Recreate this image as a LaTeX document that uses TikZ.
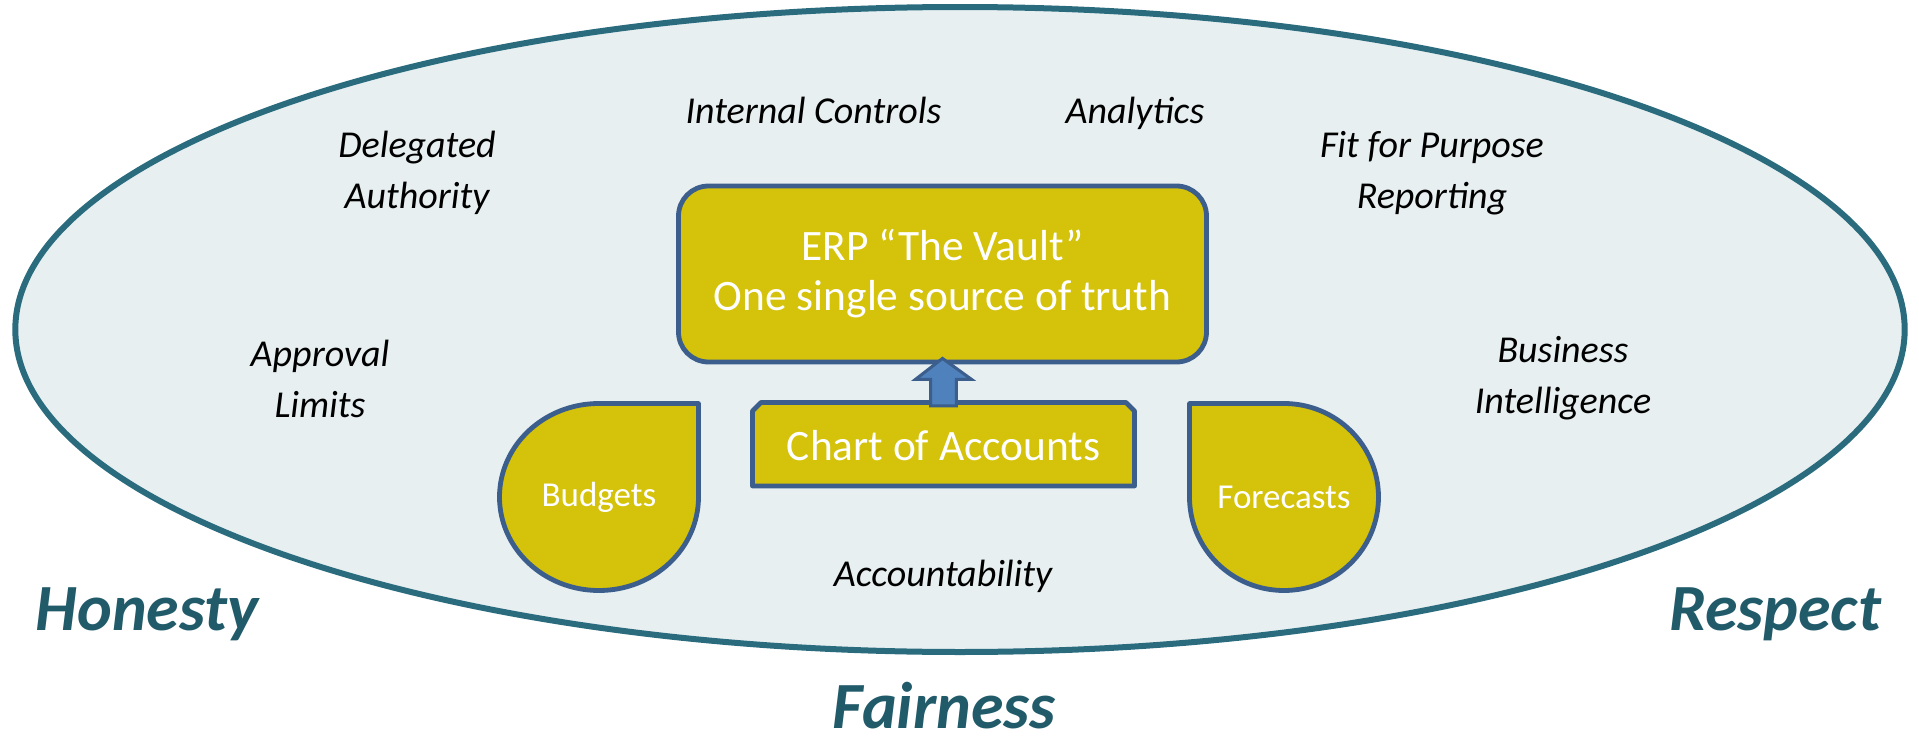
\documentclass[tikz,border=0pt]{standalone}
\usepackage{fontspec}
\setmainfont{Carlito}
\usepackage{xcolor}
\usepackage{tikz}
\usetikzlibrary{positioning}
\usetikzlibrary{calc}

\definecolor{rimteal}{HTML}{2A6C7D}
\definecolor{palefill}{HTML}{E7EFF1}
\definecolor{goldfill}{HTML}{D4C20B}
\definecolor{slateline}{HTML}{3B5E8C}
\definecolor{arrowfill}{HTML}{4F81BD}
\definecolor{virtueteal}{HTML}{215B6A}

\begin{document}
\begin{tikzpicture}[x=0.5pt,y=-0.5pt,
    rim/.style={draw=rimteal,fill=palefill,line width=3pt},
    shapeline/.style={draw=slateline,fill=goldfill,line width=2.4pt,line join=round},
    inbox/.style={text=white,inner sep=0pt,align=center,font=\fontsize{21.7pt}{25pt}\selectfont},
    dropbox/.style={text=white,inner sep=0pt,font=\fontsize{17.5pt}{20pt}\selectfont},
    topic/.style={align=center,anchor=base,font=\fontsize{19pt}{25.5pt}\selectfont\itshape},
    virtue/.style={anchor=base,inner sep=0pt,text=virtueteal,font=\fontsize{33pt}{36pt}\selectfont\bfseries\itshape},
    blockarrow/.style={draw=slateline,fill=arrowfill,line width=1.5pt}]

    \useasboundingbox (0,0) rectangle (1919,744);

    % the ring of controls
    \draw[rim] (960,329.5) ellipse [x radius=472.35pt, y radius=161.25pt];

    % (base of a two-line topic is its last line)
    \node[topic] at (813.5,123) (ic) {Internal Controls};
    \node[topic] at (1135,123) (an) {Analytics};
    \node[topic] at (417,208) (da) {Delegated\\Authority};
    \node[topic] at (1432,208) (ffp) {Fit for Purpose\\Reporting};
    \node[topic] at (320,417) (al) {Approval\\Limits};
    \node[topic] at (1563,413) (bi) {Business\\Intelligence};
    \node[topic] at (943,586) (acc) {Accountability};

    % the vault and what feeds it
    \node[shapeline,rounded corners=15pt,minimum width=264pt,minimum height=88pt,inbox] at (942.5,274) (erp) {ERP “The Vault”\\One single source of truth};

    \draw[shapeline] (752.5,486) -- (752.5,411) -- (761,402.5) -- (1126,402.5) -- (1134.5,411) -- (1134.5,486) -- cycle
        node[inbox,minimum width=191pt,minimum height=41.75pt] at (943.5,446) (coa) {Chart of Accounts};

    \draw[shapeline] (698.5,403.5) -- (698.5,497) arc[start angle=0,end angle=-270,x radius=49.75pt,y radius=46.75pt] -- cycle
        node[dropbox] at (599,497) (bud) {Budgets};
    \draw[shapeline] (1189.5,403.5) -- (1189.5,497) arc[start angle=180,end angle=450,x radius=47.25pt,y radius=46.75pt] -- cycle
        node[dropbox] at (1284,497) (fc) {Forecasts};

    \draw[blockarrow] ([shift={(-6.4pt,-2pt)}]coa.north) -- ([shift={(-6.4pt,11.25pt)}]coa.north)
        -- ([shift={(-14pt,11.25pt)}]coa.north) -- ([yshift=3pt]erp.south)
        -- ([shift={(14pt,11.25pt)}]coa.north) -- ([shift={(6.4pt,11.25pt)}]coa.north)
        -- ([shift={(6.4pt,-2pt)}]coa.north) -- cycle;

    % values outside the ring
    \node[virtue] at (147,630) (hon) {Honesty};
    \node[virtue] at (1775,630) (res) {Respect};
    \node[virtue] at (944,728) (fair) {Fairness};

\end{tikzpicture}
\end{document}
